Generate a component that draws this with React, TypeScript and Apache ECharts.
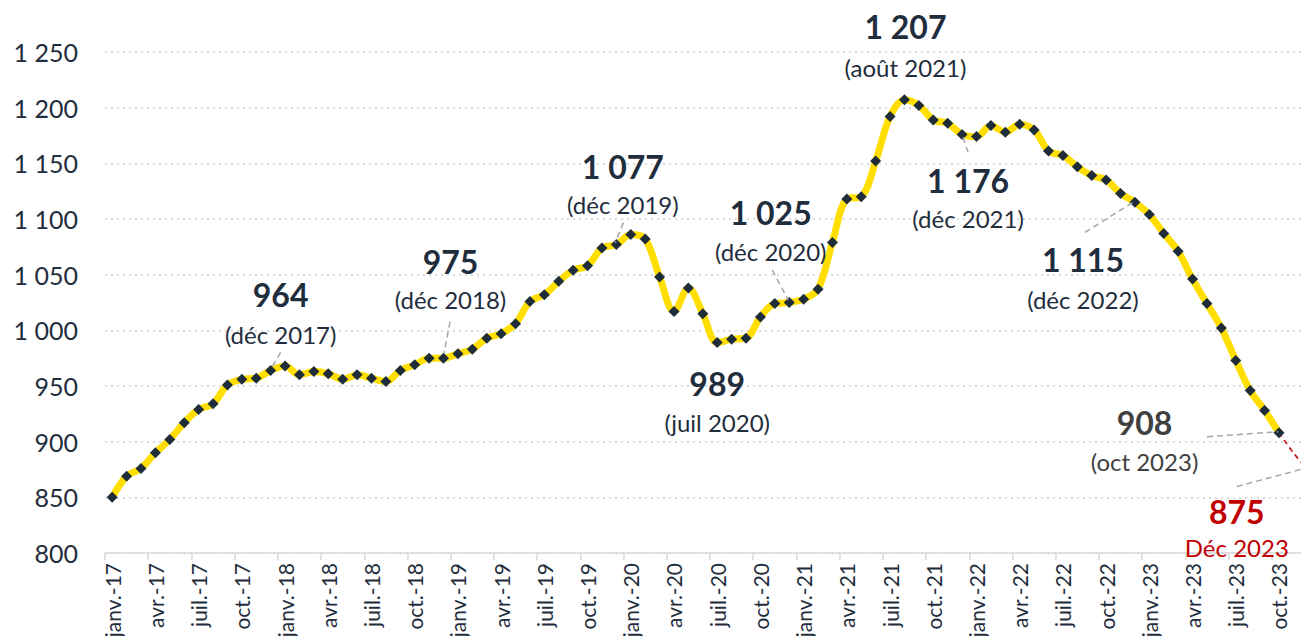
import React, { useEffect, useRef } from "react";
import * as echarts from "echarts";

const monthNames = ["janv.", "févr.", "mars", "avr.", "mai", "juin", "juil.", "août", "sept.", "oct.", "nov.", "déc."];
const yearSuffixes = ["17", "18", "19", "20", "21", "22", "23"];
const categories = yearSuffixes.flatMap((y) => monthNames.map((m) => `${m}-${y}`));

const values2017 = [850, 869, 876, 890, 902, 917, 929, 934, 951, 956, 957, 964];
const values2018 = [968, 960, 963, 961, 956, 960, 957, 954, 964, 969, 975, 975];
const values2019 = [979, 983, 993, 997, 1006, 1026, 1032, 1044, 1054, 1058, 1074, 1077];
const values2020 = [1086, 1082, 1048, 1017, 1038, 1015, 989, 992, 993, 1012, 1024, 1025];
const values2021 = [1028, 1037, 1079, 1118, 1120, 1152, 1192, 1207, 1202, 1189, 1186, 1176];
const values2022 = [1174, 1184, 1178, 1185, 1180, 1161, 1157, 1147, 1139, 1135, 1123, 1115];
const values2023 = [1104, 1087, 1071, 1046, 1024, 1002, 973, 946, 928, 908];
const forecast2023 = [890, 875]; // nov., déc. 2023

const observed = [...values2017, ...values2018, ...values2019, ...values2020, ...values2021, ...values2022, ...values2023];
const allValues = [...observed, ...forecast2023];

const fmt = (v: number) =>
  v >= 1000 ? `${Math.floor(v / 1000)} ${String(v % 1000).padStart(3, "0")}` : String(v);

// annotation layout (offsets relative to the data point, in px)
const annotations = [
  { i: 11, date: "(déc 2017)", dx: 10, vy: -76, dy: -36, lead: [10, -18, 0, -1] },
  { i: 23, date: "(déc 2018)", dx: 7, vy: -97, dy: -59, lead: [6.5, -36.5, 0.5, -5] },
  { i: 35, date: "(déc 2019)", dx: 6.5, vy: -78, dy: -40, lead: [7, -22, -1, -2] },
  { i: 47, date: "(déc 2020)", dx: -18.5, vy: -90, dy: -51, lead: [-17, -32.5, -1, -2.5] },
  { i: 42, date: "(juil 2020)", dx: 0, vy: 41, dy: 80 },
  { i: 55, date: "(août 2021)", dx: 1, vy: -73, dy: -32 },
  { i: 59, date: "(déc 2021)", dx: 6, vy: 46, dy: 84, lead: [6, 18, 0, 0] },
  { i: 71, date: "(déc 2022)", dx: -52, vy: 57, dy: 97, lead: [-50, 30, -2, 0] },
  { i: 81, date: "(oct 2023)", dx: -134.5, vy: -10, dy: 29, lead: [-72, 4, -1, -1], color: "#404040" },
  { i: 83, date: "Déc 2023", dx: -71, vy: 42, dy: 78, lead: [-71, 17, -7, 0], color: "#c00000" },
];

const TEXT = "#1f2d3d";
const FONT = "Lato, 'Open Sans', sans-serif";

export default function App() {
  const ref = useRef<HTMLDivElement>(null);
  useEffect(() => {
    document.body.style.margin = "0";
    document.body.style.overflow = "hidden";
    if (!ref.current) return;
    const chart = echarts.init(ref.current, undefined, { renderer: "svg" });
    const forecastData = allValues.map((v, i) => (i >= observed.length - 1 ? v : "-"));
    chart.setOption({
      animation: false,
      grid: { left: 105, top: 52, height: 501, width: 1210, containLabel: false, outerBoundsMode: "none" },
      xAxis: {
        type: "category",
        data: categories,
        boundaryGap: true,
        axisLine: { lineStyle: { color: "#d9d9d9", width: 1.5 } },
        axisTick: { show: true, interval: 2, length: 7, lineStyle: { color: "#d9d9d9", width: 1.5 } },
        axisLabel: { interval: 2, rotate: 90, fontSize: 21, color: TEXT, fontFamily: FONT, margin: 10 },
        splitLine: { show: false },
      },
      yAxis: {
        type: "value",
        min: 800,
        max: 1250,
        interval: 50,
        axisLine: { show: false },
        axisTick: { show: false },
        axisLabel: { formatter: (v: number) => fmt(v), fontSize: 25, color: TEXT, fontFamily: FONT, margin: 27 },
        splitLine: { lineStyle: { color: "#cfcfcf", type: [2, 4], width: 1.5 } },
      },
      series: [
        {
          type: "line",
          data: forecastData,
          smooth: 0.35,
          symbol: "none",
          lineStyle: { color: "#c00000", width: 1.5, type: [5, 4] },
          z: 1,
        },
        {
          type: "line",
          data: observed,
          smooth: 0.35,
          symbol: "diamond",
          symbolSize: 11,
          showAllSymbol: true,
          itemStyle: { color: "#1f2d3a", borderWidth: 0 },
          lineStyle: { color: "#ffde00", width: 7 },
          z: 3,
        },
      ],
    });

    const elements: any[] = [];
    annotations.forEach((a) => {
      const v = allValues[a.i];
      const [px, py] = chart.convertToPixel({ xAxisIndex: 0, yAxisIndex: 0 }, [a.i, v]) as number[];
      const color = a.color || TEXT;
      elements.push({
        type: "text",
        x: px + a.dx,
        y: py + a.vy,
        z: 10,
        style: {
          text: fmt(v),
          fill: color,
          font: `bold 32px ${FONT}`,
          align: "center",
          verticalAlign: "middle",
          textAlign: "center",
          textVerticalAlign: "middle",
        },
      });
      elements.push({
        type: "text",
        x: px + a.dx,
        y: py + a.dy,
        z: 10,
        style: {
          text: a.date,
          fill: color,
          font: `24px ${FONT}`,
          align: "center",
          verticalAlign: "middle",
          textAlign: "center",
          textVerticalAlign: "middle",
        },
      });
      if (a.lead) {
        elements.push({
          type: "line",
          z: 5,
          shape: { x1: px + a.lead[0], y1: py + a.lead[1], x2: px + a.lead[2], y2: py + a.lead[3] },
          style: { stroke: "#a6a6a6", lineWidth: 1.5, lineDash: [6, 4] },
        });
      }
    });
    chart.setOption({ graphic: { elements } });

    return () => chart.dispose();
  }, []);
  return <div ref={ref} style={{ width: 1320, height: 636 }} />;
}
